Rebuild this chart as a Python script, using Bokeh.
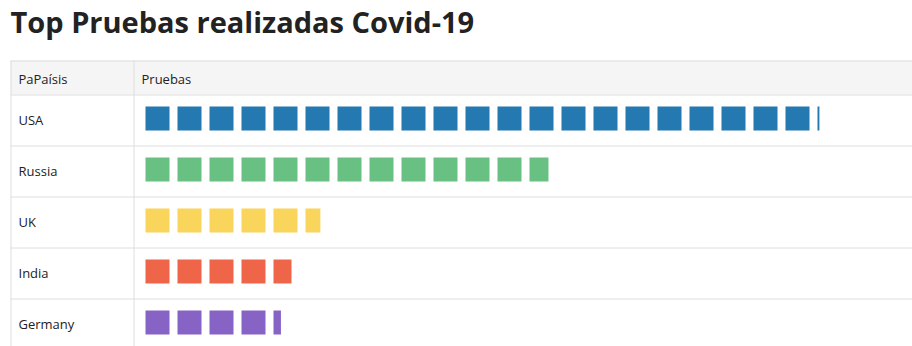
from bokeh.plotting import figure
from bokeh.models import Range1d, ColumnDataSource
from bokeh.core.properties import value
from bokeh.embed import file_html
from bokeh.resources import INLINE

# ---- data ----
title_text = "Top Pruebas realizadas Covid-19"
header_labels = ["PaPaísis", "Pruebas"]
countries = ["USA", "Russia", "UK", "India", "Germany"]
tests_millions = [21.08, 12.79, 5.62, 4.75, 4.31]
colors = ["#2379b0", "#68c182", "#f9d55c", "#ee6549", "#8763c6"]

# ---- layout / style ----
W, H = 912, 346
FONT = "Open Sans"
TXT = "#222222"
GRID = "#dedede"
tbl_left, col_sep, tbl_top, head_bot, row_h = 10, 133, 60, 94, 51
unit_px, sq_px, bar_x0, sq_top0 = 32, 24, 145, 106

p = figure(width=W, height=H, x_range=Range1d(0, W), y_range=Range1d(H, 0),
           output_backend="svg", toolbar_location=None, min_border=0,
           x_axis_location=None, y_axis_location=None)
p.grid.visible = False
p.outline_line_color = None
p.background_fill_color = "white"
p.border_fill_color = "white"
p.extra_x_ranges = {"units": Range1d(-bar_x0 / unit_px, (W - bar_x0) / unit_px)}

# title
p.text(x=[10], y=[21], text=[title_text], text_font=value(FONT),
       text_font_size="29px", text_font_style="bold", text_color=TXT,
       text_baseline="alphabetic", text_align="left")

# header background
p.quad(left=[tbl_left], right=[W], top=[tbl_top], bottom=[head_bot],
       fill_color="#f5f5f5", line_color=None)

# table lines
n = len(countries)
hy = [tbl_top + 0.5, head_bot + 0.5] + [head_bot + row_h * (k + 1) + 0.5 for k in range(n)]
p.segment(x0=[tbl_left] * len(hy), x1=[W] * len(hy), y0=hy, y1=hy,
          line_color=GRID, line_width=1)
p.segment(x0=[tbl_left + 0.5, col_sep + 0.5], x1=[tbl_left + 0.5, col_sep + 0.5],
          y0=[tbl_top, tbl_top], y1=[H, H], line_color=GRID, line_width=1)

# header text
p.text(x=[18, 141], y=[78, 78], text=header_labels, text_font=value(FONT),
       text_font_size="13px", text_color=TXT, text_baseline="alphabetic")

# country labels
p.text(x=[18] * n, y=[119.5 + row_h * k for k in range(n)], text=countries,
       text_font=value(FONT), text_font_size="13px", text_color=TXT,
       text_baseline="alphabetic")

# unit squares
L, R, T, B, C = [], [], [], [], []
frac_w = sq_px / unit_px
for k, (v, c) in enumerate(zip(tests_millions, colors)):
    full = int(v)
    frac = v - full
    top = sq_top0 + row_h * k
    for i in range(full):
        L.append(i); R.append(i + frac_w); T.append(top); B.append(top + sq_px); C.append(c)
    if frac > 0:
        L.append(full); R.append(full + frac_w * frac); T.append(top); B.append(top + sq_px); C.append(c)
src = ColumnDataSource(dict(left=L, right=R, top=T, bottom=B, color=C))
p.quad(left="left", right="right", top="top", bottom="bottom", fill_color="color",
       line_color=None, source=src, x_range_name="units")

open("out.html", "w").write(file_html(p, INLINE))
